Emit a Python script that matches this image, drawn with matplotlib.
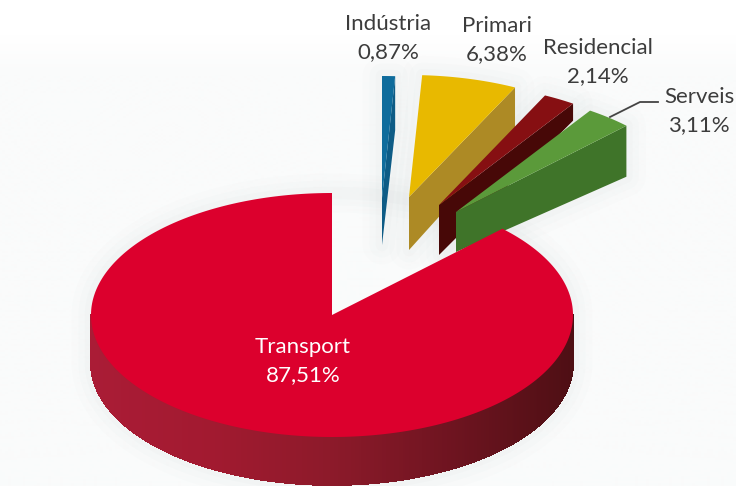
import numpy as np
import matplotlib
matplotlib.use('Agg')
import matplotlib.pyplot as plt
from matplotlib.collections import PolyCollection
from matplotlib.colors import LinearSegmentedColormap

# clockwise from 12 o'clock
labels = ['Indústria', 'Primari', 'Residencial', 'Serveis', 'Transport']
values = [0.87, 6.38, 2.14, 3.11, 87.51]

# apex of each slice and its wall depth (near apex, far end)
apex_x = [382, 409, 439, 456, 332]
apex_y = [198, 197, 205, 212, 315]
depth_near = [47, 53, 50, 40, 48]
depth_far = [54, 45, 17, 51, 48]
top_colors = ['#0f6c9c', '#e8b900', '#860f12', '#5b9a3a', '#dc002d']
wall_colors = ['#0e5c86', '#ad8a25', '#470807', '#3f7429', '#8c1a2a']
label_x = [388, 497, 598, 699, 303]
label_y = [24, 26, 48, 97, 347]
rx, ry = 241, 122


def arc(cx, cy, a0, a1, n=80):
    t = np.radians(np.linspace(a0, a1, n))
    return cx + rx * np.sin(t), cy - ry * np.cos(t)


plt.rcParams['font.family'] = ['Lato', 'DejaVu Sans']
fig = plt.figure(figsize=(7.36, 4.86), dpi=100)
ax = fig.add_axes([0, 0, 1, 1])

# very pale backdrop that fades in below the top labels
fade = np.clip((np.arange(486) - 35) / 40, 0, 1).reshape(-1, 1)
ax.imshow(fade, extent=(0, 736, 486, 0), aspect='auto', cmap=LinearSegmentedColormap.from_list('bg', ['#ffffff', '#fafbfb']), vmin=0, vmax=1)
ax.set_xlim(0, 736)
ax.set_ylim(486, 0)
ax.axis('off')

ends = np.cumsum(values) / np.sum(values) * 360
starts = ends - np.array(values) / np.sum(values) * 360

# soft shadow behind the shapes
for i in range(5):
    if i == 4:
        x, y = arc(apex_x[i], apex_y[i], 0, 360, 200)
        xs = x
        ys = np.where(np.cos(np.radians(np.linspace(0, 360, 200))) < 0, y + depth_near[i], y)
    else:
        x, y = arc(apex_x[i], apex_y[i], starts[i], ends[i])
        xs = np.r_[apex_x[i], x, x[-1], apex_x[i]]
        ys = np.r_[apex_y[i], y, y[-1] + depth_far[i], apex_y[i] + depth_near[i]]
    for lw, a in zip([28, 18, 9], [0.012, 0.016, 0.02]):
        ax.fill(xs, ys, facecolor='none', edgecolor='#6f7f88', lw=lw, alpha=a, joinstyle='round')

# exploded slices
for i in range(4):
    x, y = arc(apex_x[i], apex_y[i], starts[i], ends[i])
    ax.fill([apex_x[i], x[-1], x[-1], apex_x[i]],
            [apex_y[i], y[-1], y[-1] + depth_far[i], apex_y[i] + depth_near[i]],
            color=wall_colors[i], lw=0)
    ax.fill(np.r_[apex_x[i], x], np.r_[apex_y[i], y], color=top_colors[i], lw=0)

# transport: outer wall, shaded from left to right
x, y = arc(apex_x[4], apex_y[4], 90, 270, 360)
cmap = LinearSegmentedColormap.from_list('wall', ['#4e0f14', '#6e1420', '#8c1a2a', '#a21a30', '#aa1c36'])
quads = []
shade = []
for j in range(len(x) - 1):
    quads.append([(x[j], y[j]), (x[j + 1], y[j + 1]),
                  (x[j + 1], y[j + 1] + depth_near[4]), (x[j], y[j] + depth_near[4])])
    shade.append(cmap(1 - (x[j] - x.min()) / (x.max() - x.min())))
ax.add_collection(PolyCollection(quads, facecolors=shade, edgecolors=shade, linewidths=0.6, antialiaseds=False))

x, y = arc(apex_x[4], apex_y[4], starts[4], ends[4], 300)
ax.fill(np.r_[apex_x[4], x], np.r_[apex_y[4], y], color=top_colors[4], lw=0)

# leader line for Serveis
ax.plot([610, 640, 658], [117, 102, 102], color='#444444', lw=1.3)

for i in range(5):
    col = 'white' if i == 4 else '#3c3c3c'
    ax.text(label_x[i], label_y[i], labels[i], ha='center', va='center', fontsize=16, color=col)
    ax.text(label_x[i], label_y[i] + 28, f'{values[i]:.2f}'.replace('.', ',') + '%',
            ha='center', va='center', fontsize=16, color=col)

fig.savefig('out.png', dpi=100)
